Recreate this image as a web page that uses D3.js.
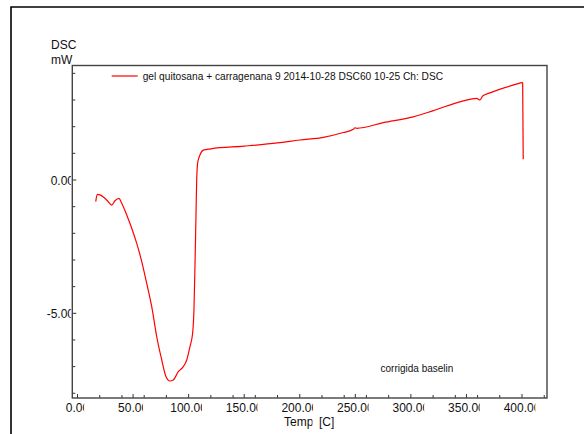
<!DOCTYPE html>
<meta charset="utf-8">
<html>
<head>
  <title>DSC gel quitosana</title>
  <style>
    body { margin: 0; background: #fff; }
    text { font-family: "Liberation Sans", Arial, sans-serif; fill: #111; }
  </style>
</head>
<body>
<div id="my_dataviz"></div>
<script src="https://d3js.org/d3.v7.min.js"></script>
<script>

// data
var temps = [16.4, 17.8, 20.2, 26.3, 30.8, 33.7, 37.3, 39.8, 44.3, 48.8, 53.3, 57.8, 62.3,
  66.8, 71.3, 75.8, 79.6, 83.2, 86.2, 90.7, 95.2, 98.3, 101.2, 103.6, 104.8, 105.7, 106.6,
  107.2, 108.1, 110.2, 113.2, 120, 150, 180, 200.2, 221.2, 239.2, 248.2, 249.7, 251.2,
  275.2, 302.2, 320.2, 347.2, 359.2, 362.2, 364.6, 371.2, 400.6, 401.1];
var dsc = [-0.81, -0.54, -0.56, -0.75, -0.94, -0.78, -0.69, -0.87, -1.31, -1.81, -2.38, -3.06, -3.88,
  -4.75, -5.88, -6.75, -7.37, -7.54, -7.5, -7.19, -7.0, -6.75, -6.25, -5.75, -4.87, -3.25, -1.37,
  -0.12, 0.63, 0.94, 1.12, 1.17, 1.27, 1.39, 1.5, 1.6, 1.78, 1.9, 1.96, 1.94,
  2.15, 2.37, 2.6, 2.97, 3.06, 3.0, 3.15, 3.27, 3.66, 0.78];

var xMajor = [0, 50, 100, 150, 200, 250, 300, 350, 400];
var xMinor = [20, 40, 60, 80, 120, 140, 160, 180, 220, 240, 260, 280, 320, 340, 360, 380, 420];
var yMajor = [0, -5];
var yMinor = [4, 3, 2, 1, -1, -2, -3, -4, -6, -7, -8];

var seriesName = "gel quitosana + carragenana 9 2014-10-28 DSC60 10-25 Ch: DSC";
var note = "corrigida baselin";

var W = 584, H = 434;
var plot = {left: 72.3, top: 65.5, right: 547, bottom: 398};

var svg = d3.select("#my_dataviz")
  .append("svg")
    .attr("width", W)
    .attr("height", H);

// outer frame
svg.append("path")
  .attr("d", "M11,434 V7 H590")
  .attr("fill", "none")
  .attr("stroke", "#000")
  .attr("stroke-width", 1.6);

var x = d3.scaleLinear().domain([0, 400]).range([77.5, 522]);
var y = d3.scaleLinear().domain([0, -5]).range([180, 313.3]);

var defs = svg.append("defs");
defs.append("clipPath").attr("id", "plotclip")
  .append("rect")
    .attr("x", plot.left).attr("y", plot.top)
    .attr("width", plot.right - plot.left).attr("height", plot.bottom - plot.top);

// ticks on the bottom axis (pointing inward)
svg.append("g").selectAll("line")
  .data(xMajor.concat(xMinor).filter(function(d) { return x(d) < plot.right; }))
  .enter().append("line")
    .attr("x1", function(d) { return x(d); })
    .attr("x2", function(d) { return x(d); })
    .attr("y1", plot.bottom)
    .attr("y2", function(d) { return plot.bottom - (xMajor.indexOf(d) >= 0 ? 4 : 3); })
    .attr("stroke", "#333")
    .attr("stroke-width", 1);

// ticks on the left axis
svg.append("g").selectAll("line")
  .data(yMajor.concat(yMinor))
  .enter().append("line")
    .attr("x1", plot.left)
    .attr("x2", function(d) { return plot.left + (yMajor.indexOf(d) >= 0 ? 4 : 3); })
    .attr("y1", function(d) { return y(d); })
    .attr("y2", function(d) { return y(d); })
    .attr("stroke", "#333")
    .attr("stroke-width", 1);

// x labels, truncated like the original
var xl = svg.append("g");
xMajor.forEach(function(v, i) {
  var t = xl.append("text")
    .attr("x", x(v))
    .attr("y", 412)
    .attr("text-anchor", "middle")
    .style("font-size", "12px")
    .attr("clip-path", "url(#xlc" + i + ")")
    .text(v.toFixed(2));
  var w = t.node().getComputedTextLength();
  defs.append("clipPath").attr("id", "xlc" + i)
    .append("rect")
      .attr("x", x(v) - w / 2 - 2).attr("y", 398)
      .attr("width", w - 3).attr("height", 20);
});

// y labels, clipped at the axis
defs.append("clipPath").attr("id", "ylc")
  .append("rect").attr("x", 0).attr("y", 0).attr("width", 70.8).attr("height", H);
svg.append("g").selectAll("text")
  .data(yMajor)
  .enter().append("text")
    .attr("x", 74)
    .attr("y", function(d) { return y(d) + 4.5; })
    .attr("text-anchor", "end")
    .style("font-size", "12px")
    .attr("clip-path", "url(#ylc)")
    .text(function(d) { return d.toFixed(2); });

// axis titles
svg.append("text").attr("x", 51).attr("y", 49).style("font-size", "12px").text("DSC");
svg.append("text").attr("x", 51).attr("y", 64).style("font-size", "12px").text("mW");

defs.append("clipPath").attr("id", "tempc")
  .append("rect").attr("x", 280).attr("y", 400).attr("width", 32.5).attr("height", 40);
svg.append("text").attr("x", 284).attr("y", 426).style("font-size", "12px")
  .attr("clip-path", "url(#tempc)").text("Temp");
svg.append("text").attr("x", 319).attr("y", 426).style("font-size", "12px").text("[C]");

// plot frame
svg.append("rect")
  .attr("x", plot.left).attr("y", plot.top)
  .attr("width", plot.right - plot.left).attr("height", plot.bottom - plot.top)
  .attr("fill", "none")
  .attr("stroke", "#444")
  .attr("stroke-width", 1.4);

// the curve
var pts = temps.map(function(t, i) { return [t, dsc[i]]; });
var line = d3.line()
  .x(function(d) { return x(d[0]); })
  .y(function(d) { return y(d[1]); })
  .curve(d3.curveMonotoneX);

svg.append("path")
  .datum(pts.slice(0, pts.length - 1))
  .attr("clip-path", "url(#plotclip)")
  .attr("fill", "none")
  .attr("stroke", "#ff0000")
  .attr("stroke-width", 1.2)
  .attr("d", line);

// final drop at end of run
svg.append("path")
  .datum(pts.slice(pts.length - 2))
  .attr("fill", "none")
  .attr("stroke", "#ff0000")
  .attr("stroke-width", 1.2)
  .attr("d", d3.line().x(function(d) { return x(d[0]); }).y(function(d) { return y(d[1]); }));

// legend
svg.append("line")
  .attr("x1", 111.7).attr("x2", 137.7).attr("y1", 76).attr("y2", 76)
  .attr("stroke", "#ff0000").attr("stroke-width", 1.2);
svg.append("text")
  .attr("x", 142.7).attr("y", 79.5)
  .style("font-size", "10.2px")
  .text(seriesName);

svg.append("text")
  .attr("x", 380.5).attr("y", 371.5)
  .style("font-size", "10px")
  .text(note);

</script>
</body>
</html>
